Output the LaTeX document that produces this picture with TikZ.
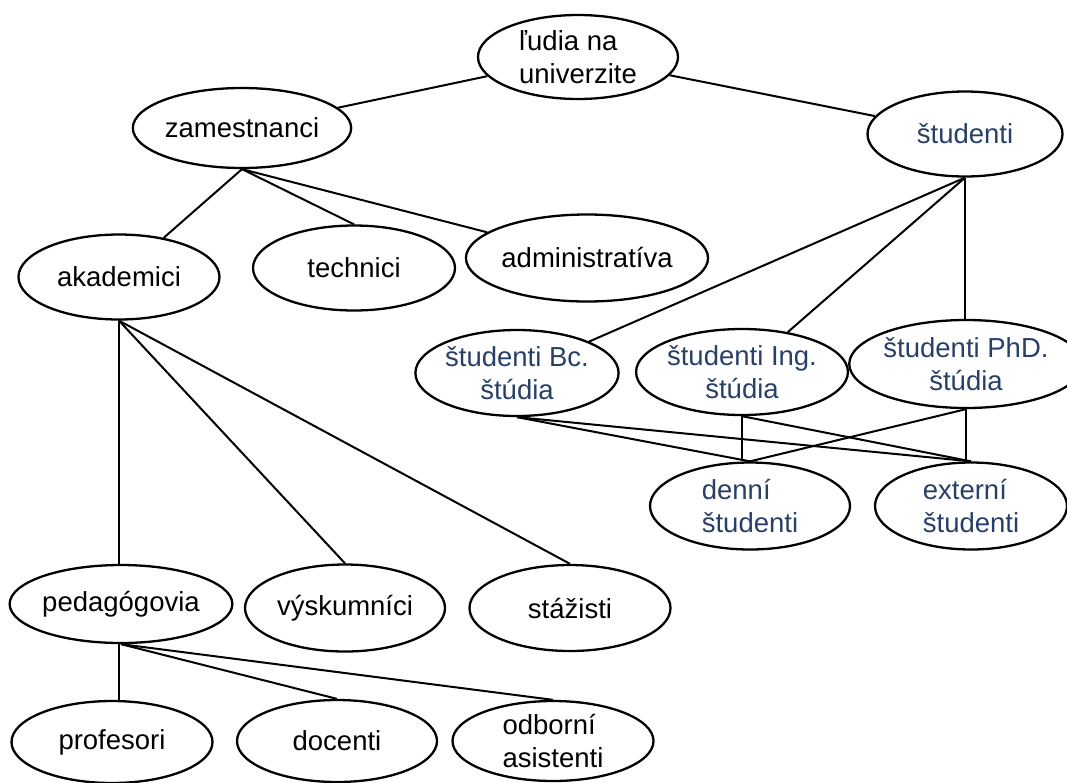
\documentclass[tikz,border=0pt]{standalone}
\usepackage{fontspec}
\setmainfont{Liberation Sans}
\usetikzlibrary{shapes.geometric}
\definecolor{studblue}{RGB}{40,64,104}
\tikzset{
  el/.style={ellipse, draw=black, line width=2.3pt, fill=white, inner sep=0pt,
             align=center, font=\fontsize{27.5}{32.5}\selectfont},
  stud/.style={el, text=studblue},
  link/.style={draw=black, line width=2pt}
}
\begin{document}
\begin{tikzpicture}[x=1pt,y=-1pt]
\useasboundingbox[fill=white] (0,0) rectangle (1067,782);

% top level
\node[el, align=left, minimum width=200pt, minimum height=84pt] (ludia) at (578,57) {ľudia na\\univerzite};
\node[el, minimum width=200pt, minimum height=80pt] (zam) at (242,128) {zamestnanci};
\node[stud, minimum width=195pt, minimum height=85pt] (stud) at (965,134) {študenti};

% employees
\node[el, minimum width=201pt, minimum height=85pt] (akad) at (119,277) {akademici};
\node[el, minimum width=202pt, minimum height=85pt] (tech) at (354,268) {technici};
\node[el, minimum width=200pt, minimum height=87pt] (admin) at (587,258) {administratíva};

% academics
\node[el, minimum width=202pt, minimum height=78pt] (ped) at (121,604) {pedagógovia};
\node[el, minimum width=200pt, minimum height=87pt] (vysk) at (345,608) {výskumníci};
\node[el, minimum width=201pt, minimum height=86pt] (staz) at (570,608) {stážisti};

% teachers
\node[el, minimum width=201pt, minimum height=82pt] (prof) at (112,742) {profesori};
\node[el, minimum width=200pt, minimum height=82pt] (doc) at (337,741) {docenti};
\node[el, align=left, minimum width=201pt, minimum height=80pt] (odb) at (553,741) {odborní\\asistenti};

% students
\node[stud, minimum width=203pt, minimum height=86pt] (bc) at (517,373) {študenti Bc.\\štúdia};
\node[stud, minimum width=200pt, minimum height=86pt] (ing) at (742,372) {študenti Ing.\\štúdia};
\node[stud, minimum width=202pt, minimum height=88pt] (phd) at (966,364) {študenti PhD.\\štúdia};
\node[stud, align=left, minimum width=200pt, minimum height=87pt] (denni) at (750,506) {denní\\študenti};
\node[stud, align=left, minimum width=192pt, minimum height=87pt] (ext) at (971,506) {externí\\študenti};

% connectors
\draw[link] (ludia) -- (zam);
\draw[link] (ludia) -- (stud);
\draw[link] (zam.south) -- (akad);
\draw[link] (zam.south) -- (tech.north);
\draw[link] (zam.south) -- (admin);
\draw[link] (akad.south) -- (akad.south |- ped.north);
\draw[link] (akad.south) -- (vysk.north);
\draw[link] (akad.south) -- (staz.north);
\draw[link] (akad.south |- ped.south) -- (akad.south |- prof.north);
\draw[link] (ped.south) -- (doc.north);
\draw[link] (ped.south) -- (odb.north);
\draw[link] (stud.south) -- (bc);
\draw[link] (stud.south) -- (ing);
\draw[link] (stud.south) -- (stud.south |- phd.north);
\draw[link] (bc.south) -- (denni.north);
\draw[link] (bc.south) -- (ext.north);
\draw[link] (ing.south) -- (ing.south |- denni.north);
\draw[link] (ing.south) -- (ext.north);
\draw[link] (phd.south) -- (denni.north);
\draw[link] (phd.south) -- (phd.south |- ext.north);
\end{tikzpicture}
\end{document}
